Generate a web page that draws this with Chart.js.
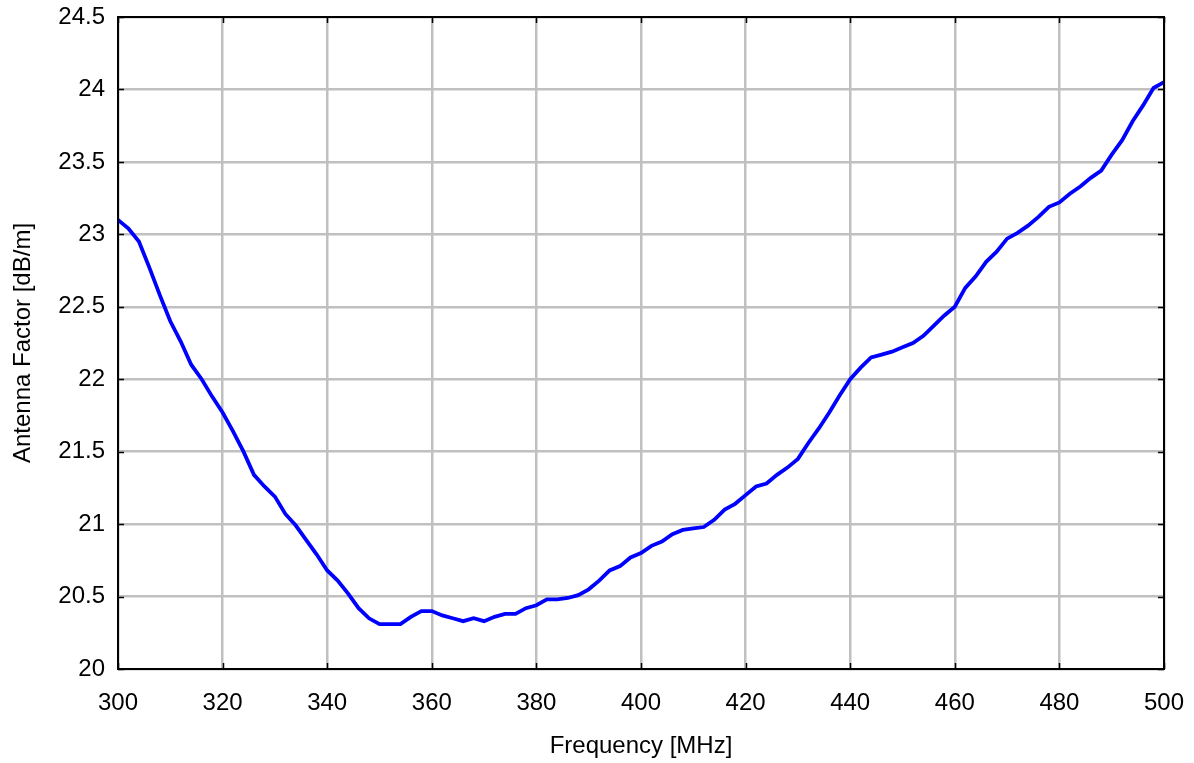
<!DOCTYPE html>
<html>
<head>
<meta charset="utf-8">
<title>Antenna Factor</title>
<script src="https://cdn.jsdelivr.net/npm/chart.js@4.4.1/dist/chart.umd.min.js"></script>
<style>
  html, body { margin: 0; padding: 0; background: #fff; }
  #wrap { width: 1194px; height: 763px; }
</style>
</head>
<body>
<div id="wrap"><canvas id="af"></canvas></div>
<script>
const freqMHz = [
  300, 302, 304, 306, 308, 310, 312, 314, 316, 318,
  320, 322, 324, 326, 328, 330, 332, 334, 336, 338,
  340, 342, 344, 346, 348, 350, 352, 354, 356, 358,
  360, 362, 364, 366, 368, 370, 372, 374, 376, 378,
  380, 382, 384, 386, 388, 390, 392, 394, 396, 398,
  400, 402, 404, 406, 408, 410, 412, 414, 416, 418,
  420, 422, 424, 426, 428, 430, 432, 434, 436, 438,
  440, 442, 444, 446, 448, 450, 452, 454, 456, 458,
  460, 462, 464, 466, 468, 470, 472, 474, 476, 478,
  480, 482, 484, 486, 488, 490, 492, 494, 496, 498,
  500
];
const antennaFactor = [
  23.10, 23.04, 22.95, 22.77, 22.58, 22.40, 22.26, 22.10, 22.00, 21.88,
  21.77, 21.64, 21.50, 21.34, 21.26, 21.19, 21.07, 20.99, 20.89, 20.79,
  20.68, 20.61, 20.52, 20.42, 20.35, 20.31, 20.31, 20.31, 20.36, 20.40,
  20.40, 20.37, 20.35, 20.33, 20.35, 20.33, 20.36, 20.38, 20.38, 20.42,
  20.44, 20.48, 20.48, 20.49, 20.51, 20.55, 20.61, 20.68, 20.71, 20.77,
  20.80, 20.85, 20.88, 20.93, 20.96, 20.97, 20.98, 21.03, 21.10, 21.14,
  21.20, 21.26, 21.28, 21.34, 21.39, 21.45, 21.56, 21.66, 21.77, 21.89,
  22.00, 22.08, 22.15, 22.17, 22.19, 22.22, 22.25, 22.30, 22.37, 22.44,
  22.50, 22.63, 22.71, 22.81, 22.88, 22.97, 23.01, 23.06, 23.12, 23.19,
  23.22, 23.28, 23.33, 23.39, 23.44, 23.55, 23.65, 23.78, 23.89, 24.01,
  24.05
];

const FONT = 'Liberation Sans, Arial, Helvetica, sans-serif';

// box round the plot plus small inward ticks on all four sides (matlab look)
const boxPlugin = {
  id: 'boxPlugin',
  afterDraw(chart) {
    const ctx = chart.ctx;
    const a = chart.chartArea;
    const xs = chart.scales.x, ys = chart.scales.y;
    const tl = 6;
    ctx.save();
    ctx.strokeStyle = '#000';
    ctx.lineWidth = 1.5;
    ctx.beginPath();
    xs.ticks.forEach(t => {
      const px = Math.round(xs.getPixelForValue(t.value)) + 0.5;
      ctx.moveTo(px, a.bottom); ctx.lineTo(px, a.bottom - tl);
      ctx.moveTo(px, a.top); ctx.lineTo(px, a.top + tl);
    });
    ys.ticks.forEach(t => {
      const py = Math.round(ys.getPixelForValue(t.value)) + 0.5;
      ctx.moveTo(a.left, py); ctx.lineTo(a.left + tl, py);
      ctx.moveTo(a.right, py); ctx.lineTo(a.right - tl, py);
    });
    ctx.stroke();
    ctx.lineWidth = 2;
    ctx.strokeRect(a.left, a.top, a.right - a.left, a.bottom - a.top);
    ctx.restore();
  }
};

const ctx = document.getElementById('af').getContext('2d');
new Chart(ctx, {
  type: 'line',
  data: {
    datasets: [{
      data: freqMHz.map((f, i) => ({ x: f, y: antennaFactor[i] })),
      borderColor: '#0000ff',
      borderWidth: 3.8,
      pointRadius: 0,
      tension: 0,
      fill: false
    }]
  },
  options: {
    responsive: true,
    maintainAspectRatio: false,
    animation: false,
    layout: { padding: { top: 17, right: 30, left: 0, bottom: 0 } },
    plugins: {
      legend: { display: false },
      tooltip: { enabled: false }
    },
    scales: {
      x: {
        type: 'linear',
        min: 300,
        max: 500,
        afterFit(scale) {
          scale.height = 94;
          scale.paddingLeft = 0;
          scale.paddingRight = 0;
        },
        ticks: {
          stepSize: 20,
          padding: 20,
          color: '#000',
          font: { family: FONT, size: 24 }
        },
        grid: { color: '#c0c0c0', lineWidth: 2.5, drawTicks: false },
        border: { display: false },
        title: {
          display: true,
          text: 'Frequency [MHz]',
          color: '#000',
          font: { family: FONT, size: 24 },
          padding: { top: 4, bottom: 2 }
        }
      },
      y: {
        min: 20,
        max: 24.5,
        afterFit(scale) {
          scale.width = 118;
          scale.paddingTop = 0;
          scale.paddingBottom = 0;
        },
        ticks: {
          stepSize: 0.5,
          padding: 13,
          color: '#000',
          font: { family: FONT, size: 24 },
          callback: v => String(v)
        },
        grid: { color: '#c0c0c0', lineWidth: 2.5, drawTicks: false },
        border: { display: false },
        title: {
          display: true,
          text: 'Antenna Factor [dB/m]',
          color: '#000',
          font: { family: FONT, size: 24 },
          padding: { top: 9, bottom: 4 }
        }
      }
    }
  },
  plugins: [boxPlugin]
});
</script>
</body>
</html>
